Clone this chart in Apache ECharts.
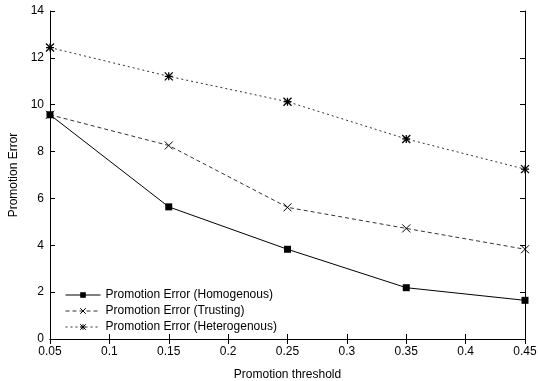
<!DOCTYPE html>
<html>
<head>
<meta charset="utf-8">
<script src="https://cdn.jsdelivr.net/npm/echarts@6/dist/echarts.min.js"></script>
<style>
  html, body { margin: 0; padding: 0; background: #fff; }
  #chart { width: 538px; height: 381px; }
</style>
</head>
<body>
<div id="chart"></div>
<script>
const thresholds = [0.05, 0.15, 0.25, 0.35, 0.45]
const homogenous = [9.57, 5.64, 3.83, 2.19, 1.65]
const trusting = [9.57, 8.26, 5.62, 4.72, 3.83]
const heterogenous = [12.44, 11.21, 10.13, 8.54, 7.25]
const seriesNames = [
  'Promotion Error (Homogenous)',
  'Promotion Error (Trusting)',
  'Promotion Error (Heterogenous)'
]

const FONT = '"Liberation Sans", Arial, sans-serif'
const pairs = (ys) => thresholds.map((x, i) => [x, ys[i]])

const chart = echarts.init(document.getElementById('chart'))

const boxAxis = {
  axisLine: { show: true, lineStyle: { color: '#000', width: 1 } },
  axisTick: { show: true, inside: true, length: 5, lineStyle: { color: '#000' } },
  splitLine: { show: false }
}

chart.setOption({
  animation: false,
  textStyle: { fontFamily: FONT },
  grid: { left: 50, right: 13, top: 11, bottom: 42, containLabel: false, outerBoundsMode: 'none' },
  legend: {
    orient: 'vertical',
    left: 65,
    top: 289,
    padding: 0,
    itemWidth: 35,
    itemHeight: 7,
    itemGap: 4,
    lineStyle: { width: 1 },
    itemStyle: { borderWidth: 1 },
    textStyle: { fontFamily: FONT, fontSize: 12, color: '#000' },
    data: seriesNames
  },
  xAxis: [
    Object.assign({
      type: 'value', min: 0.05, max: 0.45, interval: 0.05,
      name: 'Promotion threshold', nameLocation: 'middle', nameGap: 30,
      nameTextStyle: { fontFamily: FONT, fontSize: 12, color: '#000' },
      axisLabel: { fontFamily: FONT, fontSize: 12, color: '#000', margin: 7 }
    }, boxAxis),
    Object.assign({
      type: 'value', position: 'top', min: 0.05, max: 0.45, interval: 0.05,
      axisLabel: { show: false }
    }, boxAxis)
  ],
  yAxis: [
    Object.assign({
      type: 'value', min: 0, max: 14, interval: 2,
      name: 'Promotion Error', nameLocation: 'middle', nameGap: 29,
      nameTextStyle: { fontFamily: FONT, fontSize: 12, color: '#000' },
      axisLabel: { fontFamily: FONT, fontSize: 12, color: '#000', margin: 6 }
    }, boxAxis),
    Object.assign({
      type: 'value', position: 'right', min: 0, max: 14, interval: 2,
      axisLabel: { show: false }
    }, boxAxis)
  ],
  series: [
    {
      name: seriesNames[0], type: 'line', data: pairs(homogenous),
      symbol: 'rect', symbolSize: 7, clip: false,
      lineStyle: { color: '#000', width: 1, type: 'solid' },
      itemStyle: { color: '#000' }
    },
    {
      name: seriesNames[1], type: 'line', data: pairs(trusting),
      symbol: 'path://M0,0L10,10M10,0L0,10', symbolSize: 8, clip: false,
      lineStyle: { color: '#333', width: 1, type: [4, 3] },
      itemStyle: { color: 'none', borderColor: '#000', borderWidth: 1 }
    },
    {
      name: seriesNames[2], type: 'line', data: pairs(heterogenous),
      symbol: 'path://M0,0L10,10M10,0L0,10M5,0L5,10M0,5L10,5', symbolSize: 8, clip: false,
      lineStyle: { color: '#333', width: 1, type: [2, 3] },
      itemStyle: { color: 'none', borderColor: '#000', borderWidth: 1.3 }
    }
  ]
})
</script>
</body>
</html>
